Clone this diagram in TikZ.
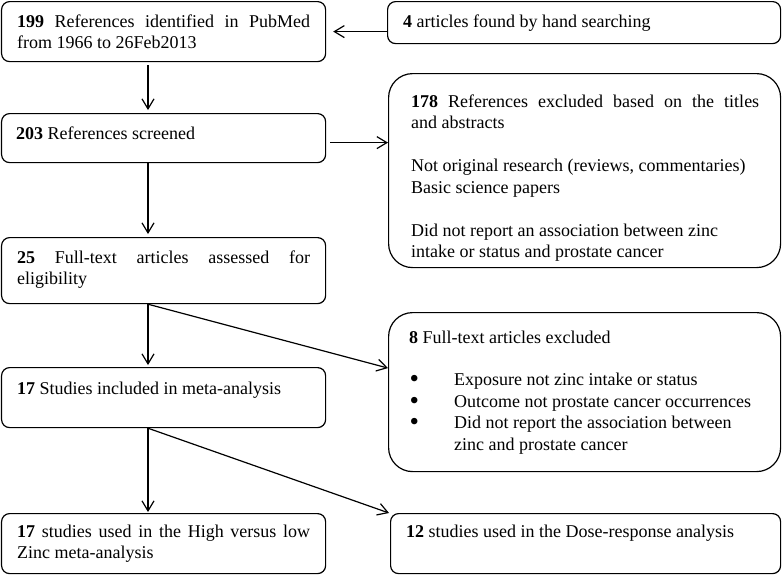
\documentclass[tikz,border=0pt]{standalone}
\usepackage{fontspec}
\usepackage{graphicx}
\setmainfont{Liberation Serif}
\usetikzlibrary{arrows.meta,calc}
\newcommand{\bigbul}{\makebox[45pt][l]{\hspace{0.5pt}\raisebox{-2pt}{\scalebox{1.5}{•}}}}
\begin{document}
\begin{tikzpicture}[x=1pt,y=-1pt,
  box/.style={draw, line width=1.2pt, rounded corners=8pt, inner sep=0pt, anchor=north west},
  bigbox/.style={draw, line width=1.2pt, rounded corners=24pt, inner sep=0pt, anchor=north west},
  txt/.style={anchor=base west, inner sep=0pt, align=left, font=\fontsize{18}{21.5}\selectfont},
  arr/.style={-{Straight Barb[length=10pt,width=12pt,line width=1.2pt]}, line width=1.2pt},
  ln/.style={line width=1.2pt}]
\useasboundingbox (0,0) rectangle (782,574);
% boxes
\node[box, minimum width=324pt, minimum height=60pt] (b1) at (1,1) {};
\node[box, minimum width=393pt, minimum height=42pt] (b4) at (387,1) {};
\node[box, minimum width=324pt, minimum height=49pt] (b203) at (1,113) {};
\node[bigbox, minimum width=392pt, minimum height=194pt] (b178) at (388,73) {};
\node[box, minimum width=324pt, minimum height=66pt] (b25) at (1,237) {};
\node[box, minimum width=324pt, minimum height=60pt] (b17) at (1,367) {};
\node[bigbox, minimum width=392pt, minimum height=159pt] (b8) at (388,312) {};
\node[box, minimum width=324pt, minimum height=60pt] (b17b) at (1,513) {};
\node[box, minimum width=390pt, minimum height=60pt] (b12) at (390,513) {};
% texts (anchor = baseline of the last line)
\node[txt] (t1) at (17,48.5) {\makebox[293pt][s]{\textbf{199} References identified in PubMed}\\from 1966 to 26Feb2013};
\node[txt] (t4) at (403,27) {\textbf{4} articles found by hand searching};
\node[txt] (t203) at (16,139) {\textbf{203} References screened};
\node[txt] (t178) at (411,257.5) {\makebox[348pt][s]{\textbf{178} References excluded based on the titles}\\and abstracts\\[21.5pt]Not original research (reviews, commentaries)\\Basic science papers\\[21.5pt]Did not report an association between zinc\\intake or status and prostate cancer};
\node[txt] (t25) at (17,284.5) {\makebox[293pt][s]{\textbf{25} Full-text articles assessed for}\\eligibility};
\node[txt] (t17) at (17,394) {\textbf{17} Studies included in meta-analysis};
\node[txt] (t8) at (409,450) {\textbf{8} Full-text articles excluded\\[21pt]\bigbul Exposure not zinc intake or status\\\bigbul Outcome not prostate cancer occurrences\\\bigbul Did not report the association between\\\makebox[45pt][l]{}zinc and prostate cancer};
\node[txt] (t17b) at (17,558.5) {\makebox[293pt][s]{\textbf{17} studies used in the High versus low}\\Zinc meta-analysis};
\node[txt] (t12) at (406,537) {\textbf{12} studies used in the Dose-response analysis};
% connectors
\coordinate (col) at (148,0);
\draw[arr] (b4.west |- b1.east) -- ($(b1.east)+(7,0)$);
\draw[arr] ($(b1.south -| col)+(0,3)$) -- ($(b203.north -| col)+(0,-3)$);
\draw[arr] ($(b203.east)+(4,4.5)$) coordinate (s1) -- (s1 -| b178.west);
\draw[arr] (b203.south -| col) -- ($(b25.north -| col)+(0,-3)$);
\draw[arr] (b25.south -| col) -- ($(b17.north -| col)+(0,-2)$);
\draw[arr] (b25.south -| col) -- ($(b8.north west)!0.35!(b8.south west)$);
\draw[arr] (b17.south -| col) -- ($(b17b.north -| col)+(0,-1)$);
\draw[arr] (b17.south -| col) -- ($(b12.north west)+(-1,0)$);
\end{tikzpicture}
\end{document}
